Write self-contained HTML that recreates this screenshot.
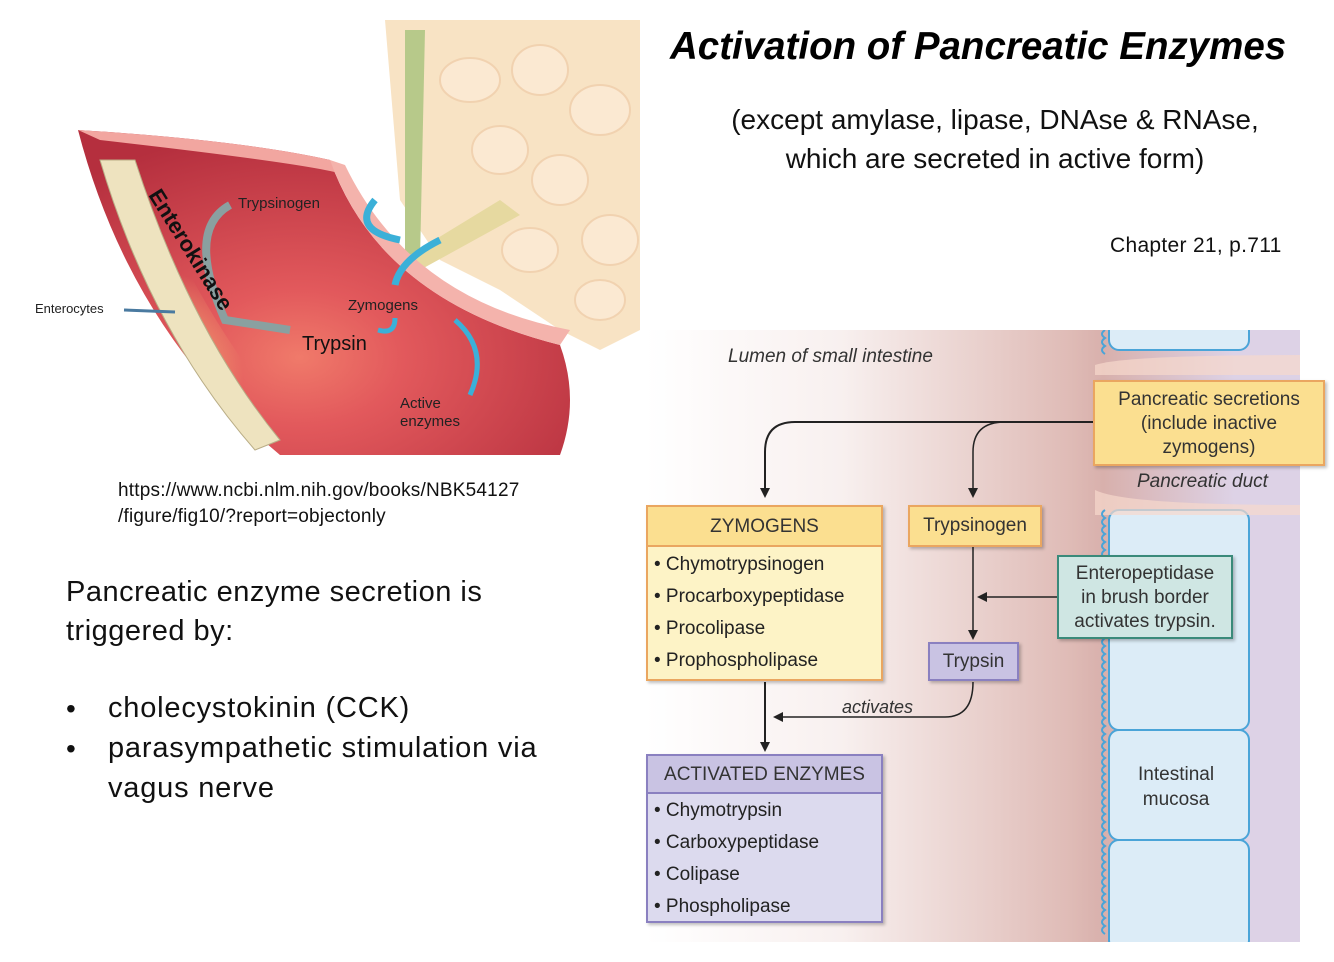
<!DOCTYPE html>
<html><head><meta charset="utf-8"><style>
body{margin:0;width:1334px;height:962px;background:#fff;position:relative;overflow:hidden;font-family:"Liberation Sans",sans-serif}
.a{position:absolute;white-space:nowrap}
.bx{position:absolute;box-sizing:border-box;box-shadow:2px 2px 3px rgba(0,0,0,.25)}
.it{font-size:19px;color:#333;line-height:32px}
</style></head><body>
<!-- illustration -->
<svg class="a" style="left:0;top:0" width="650" height="470">
<defs>
<radialGradient id="rg" cx="0.45" cy="0.7" r="0.7"><stop offset="0" stop-color="#f07a6a"/><stop offset="0.3" stop-color="#e2595c"/><stop offset="1" stop-color="#b52f3e"/></radialGradient>
<radialGradient id="yg" cx="0.3" cy="0.75" r="0.35"><stop offset="0" stop-color="#f6c07a"/><stop offset="1" stop-color="#f6c07a" stop-opacity="0"/></radialGradient>
</defs>
<path d="M385,20 L640,20 L640,330 L600,350 L560,330 L500,290 L440,260 L400,200 Z" fill="#f8e3c4"/>
<g fill="#fbe9d2" stroke="#f1d2b0" stroke-width="2">
<ellipse cx="470" cy="80" rx="30" ry="22"/><ellipse cx="540" cy="70" rx="28" ry="25"/><ellipse cx="600" cy="110" rx="30" ry="25"/><ellipse cx="500" cy="150" rx="28" ry="24"/><ellipse cx="560" cy="180" rx="28" ry="25"/><ellipse cx="610" cy="240" rx="28" ry="25"/><ellipse cx="530" cy="250" rx="28" ry="22"/><ellipse cx="600" cy="300" rx="25" ry="20"/></g>
<path d="M405,30 L425,30 L420,260 L405,260 Z" fill="#b7c98a"/>
<path d="M500,200 L520,215 L420,270 L405,258 Z" fill="#e6d9a0"/>
<path d="M78,130 Q240,140 330,160 Q380,300 560,345 Q580,400 560,455 L280,455 Q130,330 78,130 Z" fill="url(#rg)"/>
<path d="M78,130 Q240,140 330,160 L345,175 Q320,165 100,140 Z" fill="#f2a6a0"/>
<path d="M330,160 Q380,300 560,345 L570,330 Q410,300 345,165 Z" fill="#f4b3ac"/>
<path d="M100,160 Q160,330 280,455 L320,455 Q200,330 135,150 Z" fill="url(#yg)"/>
<path d="M100,160 L135,160 Q190,330 280,440 L255,450 Q150,330 100,160 Z" fill="#eee3bf" stroke="#b9ad86"/>
<path d="M375,200 Q350,230 400,240" stroke="#3bb0d8" stroke-width="7" fill="none"/>
<path d="M440,240 Q400,260 395,285" stroke="#3bb0d8" stroke-width="7" fill="none"/>
<path d="M378,330 Q395,335 395,318" stroke="#3bb0d8" stroke-width="5" fill="none"/>
<path d="M455,320 Q490,350 470,395" stroke="#3bb0d8" stroke-width="5" fill="none"/>
<path d="M230,205 Q185,230 225,320 L290,330" stroke="#8aa0a0" stroke-width="8" fill="none"/>
<text x="238" y="208" font-size="15" font-family="Liberation Sans" fill="#222">Trypsinogen</text>
<text x="348" y="310" font-size="15" font-family="Liberation Sans" fill="#222">Zymogens</text>
<text x="302" y="350" font-size="20" font-family="Liberation Sans" fill="#111">Trypsin</text>
<text x="400" y="408" font-size="15" font-family="Liberation Sans" fill="#222">Active</text>
<text x="400" y="426" font-size="15" font-family="Liberation Sans" fill="#222">enzymes</text>
<text x="35" y="313" font-size="13" font-family="Liberation Sans" fill="#222">Enterocytes</text>
<line x1="124" y1="310" x2="175" y2="312" stroke="#4a7aa0" stroke-width="3"/>
<text x="0" y="0" font-size="22" font-weight="bold" font-family="Liberation Sans" fill="#111" transform="translate(148,195) rotate(58)">Enterokinase</text>
</svg>
<div class="a" style="left:118px;top:478px;font-size:19px;letter-spacing:0.2px;line-height:26px;color:#111">https://www.ncbi.nlm.nih.gov/books/NBK54127<br>/figure/fig10/?report=objectonly</div>
<div class="a" style="left:66px;top:573px;font-size:29px;letter-spacing:0.5px;line-height:39px;color:#111">Pancreatic enzyme secretion is<br>triggered by:</div>
<div class="a" style="left:66px;top:689px;font-size:28px;line-height:40px;color:#111">•<br>•</div>
<div class="a" style="left:108px;top:688px;font-size:29px;letter-spacing:0.8px;line-height:40px;color:#111">cholecystokinin (CCK)<br>parasympathetic stimulation via<br>vagus nerve</div>
<div class="a" style="left:670px;top:25px;font-size:38.5px;font-weight:bold;font-style:italic;color:#000">Activation of Pancreatic Enzymes</div>
<div class="a" style="left:700px;top:100px;width:590px;text-align:center;font-size:28px;line-height:39px;color:#111">(except amylase, lipase, DNAse &amp; RNAse,<br>which are secreted in active form)</div>
<div class="a" style="left:1110px;top:234px;font-size:21px;letter-spacing:0.3px;color:#111">Chapter 21, p.711</div>
<!-- right diagram background -->
<div class="a" style="left:645px;top:330px;width:655px;height:612px;background:linear-gradient(90deg,#fff 0%,#f8f0ef 30%,#dfbbb6 65%,#d8b0ac 70%,#ddd2e6 90%,#ddd2e6 100%)"></div>
<svg class="a" style="left:1095px;top:330px" width="205" height="612">
<g fill="#dcecf7" stroke="#4aa4d8" stroke-width="2">
<rect x="14" y="-10" width="140" height="30" rx="10"/>
<rect x="14" y="180" width="140" height="220" rx="10"/>
<rect x="14" y="400" width="140" height="110" rx="10"/>
<rect x="14" y="510" width="140" height="110" rx="10"/>
</g>
<path d="M0,35 Q30,25 205,25 L205,45 L0,45 Z" fill="#f6d9cc" opacity=".7"/>
<path d="M0,160 Q30,175 205,175 L205,185 L0,185 Z" fill="#f6d9cc" opacity=".7"/>
<path d="M10,180 q-6,4 0,8 q-6,4 0,8 q-6,4 0,8 q-6,4 0,8 q-6,4 0,8 q-6,4 0,8 q-6,4 0,8 q-6,4 0,8 q-6,4 0,8 q-6,4 0,8 q-6,4 0,8 q-6,4 0,8 q-6,4 0,8 q-6,4 0,8 q-6,4 0,8 q-6,4 0,8 q-6,4 0,8 q-6,4 0,8 q-6,4 0,8 q-6,4 0,8 q-6,4 0,8 q-6,4 0,8 q-6,4 0,8 q-6,4 0,8 q-6,4 0,8 q-6,4 0,8 q-6,4 0,8 q-6,4 0,8 q-6,4 0,8 q-6,4 0,8 q-6,4 0,8 q-6,4 0,8 q-6,4 0,8 q-6,4 0,8 q-6,4 0,8 q-6,4 0,8 q-6,4 0,8 q-6,4 0,8 q-6,4 0,8 q-6,4 0,8 q-6,4 0,8 q-6,4 0,8 q-6,4 0,8 q-6,4 0,8 q-6,4 0,8 q-6,4 0,8 q-6,4 0,8 q-6,4 0,8 q-6,4 0,8 q-6,4 0,8 q-6,4 0,8 q-6,4 0,8 q-6,4 0,8" stroke="#4aa4d8" stroke-width="2" fill="none"/>
<path d="M10,0 q-6,4 0,8 q-6,4 0,8 q-6,4 0,8" stroke="#4aa4d8" stroke-width="2" fill="none"/>
</svg>
<div class="a it" style="left:728px;top:341px;font-style:italic">Lumen of small intestine</div>
<div class="a it" style="left:1137px;top:466px;font-style:italic">Pancreatic duct</div>
<div class="a" style="left:1138px;top:762px;font-size:19px;line-height:25px;color:#333;text-align:center">Intestinal<br>mucosa</div>
<svg class="a" style="left:645px;top:330px" width="460" height="430">
<defs><marker id="ar" markerWidth="10" markerHeight="10" refX="8" refY="5" orient="auto" markerUnits="userSpaceOnUse"><path d="M0,0 L10,5 L0,10 Z" fill="#222"/></marker></defs>
<g stroke="#222" stroke-width="2" fill="none">
<path d="M448,92 L150,92 Q120,92 120,122 L120,166" marker-end="url(#ar)"/>
<path d="M360,92 Q328,92 328,122 L328,166" stroke-width="1.5" marker-end="url(#ar)"/>
<path d="M328,217 L328,308" stroke-width="1.5" marker-end="url(#ar)"/>
<path d="M412,267 L334,267" stroke-width="1.5" marker-end="url(#ar)"/>
<path d="M328,352 Q328,387 300,387 L130,387" stroke-width="1.5" marker-end="url(#ar)"/>
<path d="M120,352 L120,420" marker-end="url(#ar)"/>
</g>
<text x="197" y="383" font-size="18" font-style="italic" font-family="Liberation Sans" fill="#333">activates</text>
</svg>
<div class="bx" style="left:1093px;top:380px;width:232px;height:86px;background:#fbdf90;border:2px solid #eaa660;font-size:19px;line-height:24px;color:#333;text-align:center;padding-top:6px">Pancreatic secretions<br>(include inactive<br>zymogens)</div>
<div class="bx" style="left:646px;top:505px;width:237px;height:176px;background:#fdf3c6;border:2px solid #eaa660;font-size:19px;color:#222">
<div style="background:#fbdf90;border-bottom:2px solid #eaa660;height:38px;line-height:40px;text-align:center;color:#333">ZYMOGENS</div>
<div style="padding-left:6px;line-height:32px;padding-top:2px">• Chymotrypsinogen<br>• Procarboxypeptidase<br>• Procolipase<br>• Prophospholipase</div></div>
<div class="bx" style="left:908px;top:505px;width:134px;height:42px;background:#fbdf90;border:2px solid #eaa660;font-size:19px;line-height:38px;text-align:center;color:#333">Trypsinogen</div>
<div class="bx" style="left:1057px;top:555px;width:176px;height:84px;background:#cfe6e3;border:2px solid #3a8a7a;font-size:19px;line-height:24px;text-align:center;color:#333;padding-top:5px">Enteropeptidase<br>in brush border<br>activates trypsin.</div>
<div class="bx" style="left:928px;top:642px;width:91px;height:39px;background:#c9c3e3;border:2px solid #8a80c0;font-size:19px;line-height:35px;text-align:center;color:#333">Trypsin</div>
<div class="bx" style="left:646px;top:754px;width:237px;height:169px;background:#dcdaee;border:2px solid #8a80c0;font-size:19px;color:#222">
<div style="background:#c9c3e3;border-bottom:2px solid #8a80c0;height:36px;line-height:38px;text-align:center;color:#333">ACTIVATED ENZYMES</div>
<div style="padding-left:6px;line-height:32px;padding-top:1px">• Chymotrypsin<br>• Carboxypeptidase<br>• Colipase<br>• Phospholipase</div></div>
</body></html>
